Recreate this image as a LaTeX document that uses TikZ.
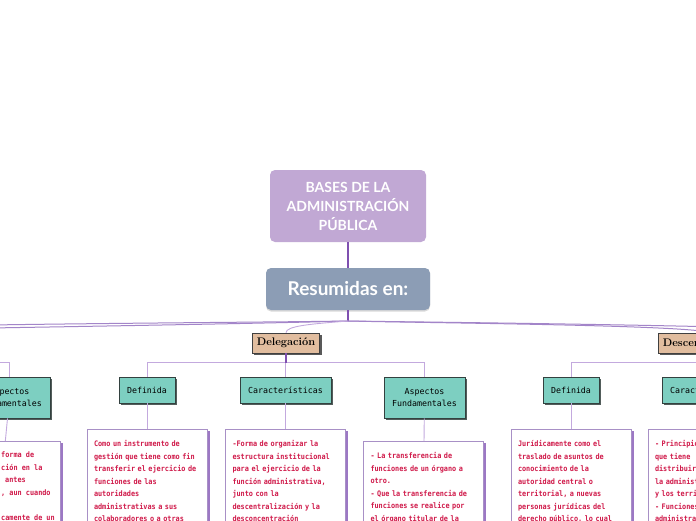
\documentclass[tikz,border=0pt]{standalone}
\usepackage{fontspec}
\usetikzlibrary{shadows}
\newfontfamily\headfont{Lato}
\newfontfamily\tagfont{DejaVu Sans Mono}
\newfontfamily\notefont[FakeStretch=0.9]{DejaVu Sans Mono}
\definecolor{rootcol}{HTML}{C1A8D4}
\definecolor{sumcol}{HTML}{8C9DB5}
\definecolor{tancol}{HTML}{E1BD9F}
\definecolor{tealcol}{HTML}{7DCFC1}
\definecolor{tealline}{HTML}{33413F}
\definecolor{tealshade}{HTML}{525D5B}
\definecolor{linkcol}{HTML}{C3A9DE}
\definecolor{bandcol}{HTML}{A385C9}
\definecolor{stemcol}{HTML}{7F50B0}
\definecolor{notecol}{HTML}{D01A4A}
\definecolor{noteline}{HTML}{A890C6}
\definecolor{noteshade}{HTML}{9C78C4}
\begin{document}
\begin{tikzpicture}
    [x=1pt,y=-1pt,
     title/.style={fill=rootcol,rounded corners=5pt,text=white,align=center,
       minimum width=156pt,minimum height=72pt,
       font=\headfont\bfseries\fontsize{14}{19}\selectfont},
     summary/.style={fill=sumcol,rounded corners=5pt,text=white,
       minimum width=164pt,minimum height=42pt,
       font=\headfont\bfseries\fontsize{19}{22}\selectfont,
       drop shadow={shadow xshift=0pt,shadow yshift=-1.5pt,fill=black,opacity=.15}},
     branch/.style={fill=tancol,draw=black!75,line width=.6pt,inner xsep=4.5pt,
       minimum height=20pt,font=\bfseries\fontsize{11}{12}\selectfont,
       drop shadow={shadow xshift=2pt,shadow yshift=-2pt,fill=black!65,opacity=1}},
     topic/.style={fill=tealcol,draw=tealline,line width=.6pt,inner xsep=8pt,
       minimum height=26pt,align=center,font=\tagfont\fontsize{8.3}{12}\selectfont,
       drop shadow={shadow xshift=2pt,shadow yshift=-2pt,fill=tealshade,opacity=1}},
     notetext/.style={text=notecol,align=left,font=\notefont\bfseries\fontsize{7.6}{12.5}\selectfont},
     note/.style={notetext,fill=white,draw=noteline,line width=.8pt,
       text width=106pt,inner xsep=7pt,inner ysep=11pt,anchor=north,
       drop shadow={shadow xshift=2.5pt,shadow yshift=-1.5pt,fill=noteshade,opacity=1}},
     trunk/.style={draw=stemcol,line width=1.2pt},
     band/.style={draw=bandcol,line width=1pt},
     link/.style={draw=linkcol,line width=.9pt},
     sub/.style={link,to path={(\tikztostart.north) -- ++(0,-14) -| (\tikztotarget)}}]
    \useasboundingbox (0, 0) rectangle (696, 520);
    \clip (0, 0) rectangle (696, 520);
    \fill [white] (0, 0) rectangle (696, 520);
    \node [title] (root) at (348, 206) {BASES DE LA\\ADMINISTRACIÓN\\PÚBLICA};
    \node [summary] (sum) at (348, 289) {Resumidas en:}
      edge [trunk] (root);
    \coordinate (hub) at (348, 321);
    \coordinate (farL1) at (-10, 325);
    \coordinate (farL2) at (-10, 328);
    \coordinate (farR) at (720, 327);
    \coordinate (leftup) at (-130, 353);
    \draw [trunk] (sum) -- (hub);
    \node [branch] (deleg) at (286, 343) {Delegación};
    \node [branch,anchor=west] (decen) at (658, 343) {Descentralización};
    \draw [band] (hub) .. controls (290, 322) and (120, 323) .. (farL1);
    \draw [band] (hub) .. controls (280, 323) and (110, 326) .. (farL2);
    \draw [band] (hub) .. controls (420, 322) and (600, 324) .. (farR);
    \draw [band] (hub) .. controls (430, 323) and (690, 325) .. (decen.north);
    \draw [link] (hub) .. controls (310, 324) and (286, 326) .. (deleg.north);
    \node [topic,minimum height=41pt] (aspL) at (9.5, 397.5) {Aspectos\\Fundamentales}
      edge [sub] (leftup);
    \node [topic] (defA) at (147, 390) {Definida}
      edge [sub] (deleg.south);
    \node [topic] (carA) at (285.5, 390) {Características}
      edge [sub] (deleg.south);
    \node [topic,minimum height=41pt] (aspA) at (424.5, 397.5) {Aspectos\\Fundamentales}
      edge [sub] (deleg.south);
    \node [topic] (defB) at (571, 390) {Definida}
      edge [sub] (decen.south);
    \node [topic] (carB) at (707.5, 390) {Características}
      edge [sub] (decen.south);
    \draw [trunk] (deleg.south) -- ++(0, 10);
    \node [note,minimum height=100pt] (noteL) at (0.5, 441) {}
      edge [link] (aspL);
    \node [notetext,anchor=north west,inner sep=0pt] (noteLtext) at (1, 452)
      {forma de\\ción en la\\\hspace*{4pt}antes\\, aun cuando\\\mbox{}\\camente de un};
    \node [note] (noteA) at (147, 429)
      {Como un instrumento de\\gestión que tiene como fin\\transferir el ejercicio de\\funciones de las\\autoridades\\administrativas a sus\\colaboradores o a otras}
      edge [link] (defA);
    \node [note] (noteC) at (285.5, 429)
      {-Forma de organizar la\\estructura institucional\\para el ejercicio de la\\función administrativa,\\junto con la\\descentralización y la\\desconcentración}
      edge [link] (carA);
    \node [note] (noteF) at (423.5, 441)
      {- La transferencia de\\funciones de un órgano a\\otro.\\- Que la transferencia de\\funciones se realice por\\el órgano titular de la}
      edge [link] (aspA);
    \node [note] (noteD) at (571, 429)
      {Jurídicamente como el\\traslado de asuntos de\\conocimiento de la\\autoridad central o\\territorial, a nuevas\\personas jurídicas del\\derecho público, lo cual}
      edge [link] (defB);
    \node [note] (noteE) at (708, 429)
      {- Principio\\que tiene\\distribuir\\la administración\\y los territorios\\- Funciones\\administrativas}
      edge [link] (carB);
  \end{tikzpicture}
\end{document}
